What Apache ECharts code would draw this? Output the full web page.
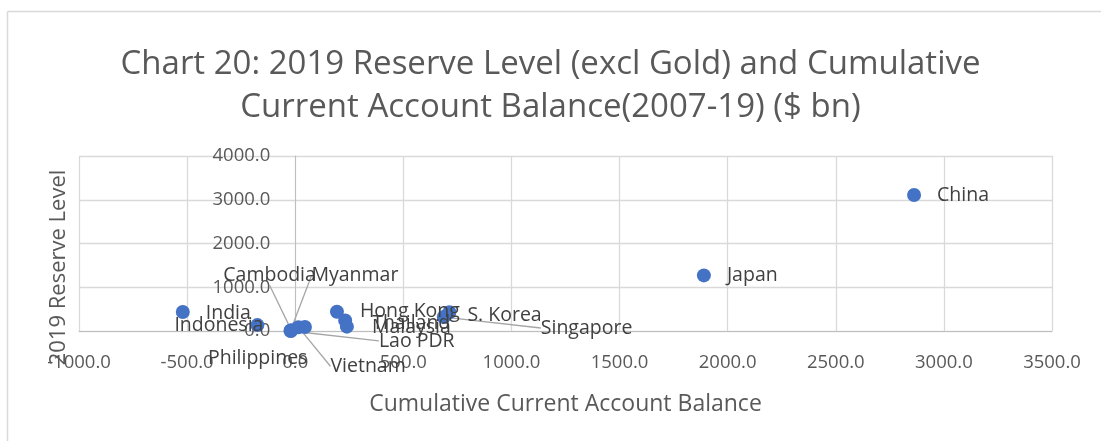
<!DOCTYPE html>
<html>
<head>
<meta charset="utf-8">
<script src="https://cdn.jsdelivr.net/npm/echarts@6/dist/echarts.min.js"></script>
<style>
html,body{margin:0;padding:0;background:#fff;}
#chart{width:1101px;height:441px;}
</style>
</head>
<body>
<div id="chart"></div>
<script>
// Data
const countries = ["India","Indonesia","Cambodia","Myanmar","Lao PDR","Vietnam","Philippines","Hong Kong","Thailand","Malaysia","Singapore","S. Korea","Japan","China"];
const cumulativeCA = [-520, -175, -18, -22, -20, 15, 45, 193, 231, 239, 687, 713, 1890, 2862];
const reserves2019 = [434, 135, 19, 6, 1, 85, 90, 440, 240, 100, 320, 430, 1271, 3110];
const xTicks = {min: -1000, max: 3500, interval: 500};
const yTicks = {min: 0, max: 4000, interval: 1000};

// Label placement tweaks (pixel offsets from the default right-side label), and leader-line flags
const labelShift = {
  "Indonesia": [-106, 0, false],
  "Cambodia": [-91, -55, true],
  "Myanmar": [-2, -55, true],
  "Lao PDR": [65, 10, true],
  "Philippines": [-120, 31, false],
  "Vietnam": [9, 39, true],
  "Singapore": [74, 11, true],
  "Thailand": [4, 3, false],
  "Malaysia": [2, 1, false],
  "S. Korea": [-5, 3, false],
  "India": [0, 1, false]
};

const seriesData = countries.map((name, i) => {
  const s = labelShift[name];
  return {name: name, value: [cumulativeCA[i], reserves2019[i]], labelLine: {show: !!(s && s[2])}};
});

const GRID = {left: 79, right: 49, top: 156, bottom: 110};
const plotW = 1101 - GRID.left - GRID.right;
// shift of the y axis so that it crosses the x axis at 0 (as in the reference)
const yAxisShift = plotW * (0 - xTicks.min) / (xTicks.max - xTicks.min);

const chart = echarts.init(document.getElementById('chart'), null, {renderer: 'canvas'});
const font = '"Open Sans", "DejaVu Sans", sans-serif';
chart.setOption({
  animation: false,
  backgroundColor: '#ffffff',
  title: {
    text: 'Chart 20: 2019 Reserve Level (excl Gold) and Cumulative\nCurrent Account Balance(2007-19) ($ bn)',
    left: 'center',
    top: 38,
    textStyle: {
      fontFamily: font,
      fontSize: 33,
      fontWeight: 'normal',
      color: '#595959',
      lineHeight: 43
    }
  },
  graphic: [
    {type: 'line', shape: {x1: 7.5, y1: 11.5, x2: 1101, y2: 11.5}, style: {stroke: '#d9d9d9', lineWidth: 1.5}},
    {type: 'line', shape: {x1: 7.5, y1: 11.5, x2: 7.5, y2: 441}, style: {stroke: '#d9d9d9', lineWidth: 1.5}}
  ],
  grid: {left: GRID.left, right: GRID.right, top: GRID.top, bottom: GRID.bottom, containLabel: false, outerBoundsMode: 'none'},
  xAxis: {
    type: 'value',
    min: xTicks.min, max: xTicks.max, interval: xTicks.interval,
    name: 'Cumulative Current Account Balance',
    nameLocation: 'middle',
    nameGap: 62,
    nameTextStyle: {fontFamily: font, fontSize: 23, color: '#595959'},
    axisLine: {show: true, onZero: false, lineStyle: {color: '#bfbfbf', width: 1}},
    axisTick: {show: false},
    axisLabel: {
      fontFamily: font, fontSize: 18.5, color: '#595959', margin: 22,
      formatter: v => v.toFixed(1)
    },
    splitLine: {show: true, lineStyle: {color: '#d9d9d9', width: 1.3}}
  },
  yAxis: {
    type: 'value',
    min: yTicks.min, max: yTicks.max, interval: yTicks.interval,
    offset: -yAxisShift,
    name: '2019 Reserve Level',
    nameLocation: 'middle',
    nameGap: 225,
    nameTextStyle: {fontFamily: font, fontSize: 22, color: '#595959', padding: [0, 48, 0, 0]},
    axisLine: {show: true, onZero: false, lineStyle: {color: '#bfbfbf', width: 1}},
    axisTick: {show: false},
    axisLabel: {
      fontFamily: font, fontSize: 18.5, color: '#595959', margin: 25,
      formatter: v => v.toFixed(1)
    },
    splitLine: {show: true, lineStyle: {color: '#d9d9d9', width: 1.3}}
  },
  series: [{
    type: 'scatter',
    symbol: 'circle',
    symbolSize: 14,
    itemStyle: {color: '#4472C4', opacity: 1},
    data: seriesData,
    label: {
      show: true,
      position: 'right',
      distance: 16,
      formatter: '{b}',
      fontFamily: font,
      fontSize: 19.5,
      color: '#404040'
    },
    labelLine: {show: true, lineStyle: {color: '#a6a6a6', width: 1.3}},
    labelLayout: function (params) {
      const name = countries[params.dataIndex];
      const s = labelShift[name];
      if (!s) return {};
      return {dx: s[0], dy: s[1]};
    }
  }]
});
</script>
</body>
</html>
